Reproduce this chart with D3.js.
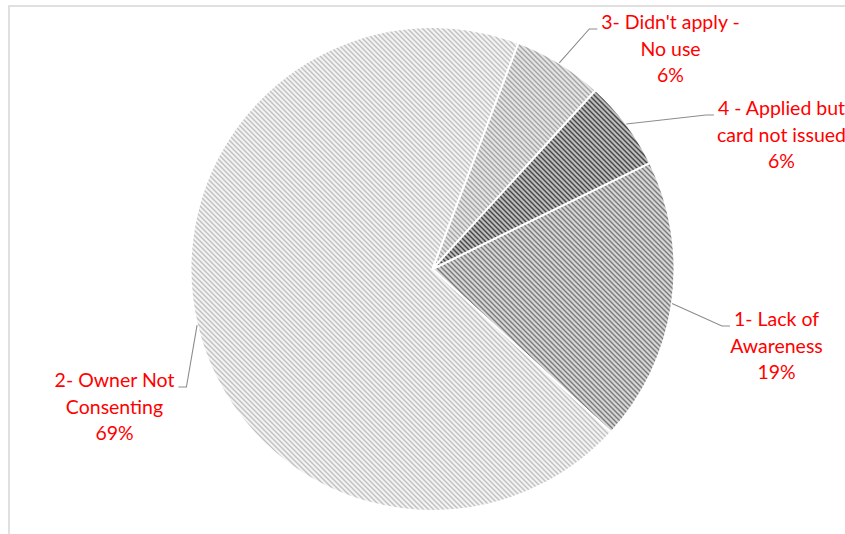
<!DOCTYPE html>
<html>
<head>
<meta charset="utf-8">
<script src="https://cdn.jsdelivr.net/npm/d3@7"></script>
<style>
  html, body { margin: 0; padding: 0; background: #fff; }
  svg { display: block; }
</style>
</head>
<body>
<svg id="chart" width="845" height="534"></svg>
<script>
// Reasons for not holding a card, share of respondents
const categories = ["1- Lack of Awareness", "2- Owner Not Consenting", "3- Didn't apply - No use", "4 - Applied but card not issued"];
const labelLines = [["1- Lack of", "Awareness"], ["2- Owner Not", "Consenting"], ["3- Didn't apply -", "No use"], ["4 - Applied but", "card not issued"]];
const values = [19, 69, 6, 6];
const percentLabels = ["19%", "69%", "6%", "6%"];

// Hatch styling per slice: [background, stripe]
const hatch = [
  ["#d6d6d6", "#7a7a7a"],
  ["#f3f3f3", "#c0c0c0"],
  ["#e4e4e4", "#a4a4a4"],
  ["#bdbdbd", "#454545"]
];

// Label block placement relative to pie centre: [centre x offset, first baseline y offset]
const labelPlacement = [
  [344, 57],
  [-318, 118],
  [238, -240],
  [349, -154]
];

const W = 845, H = 534;
const cx = 432.5, cy = 269, R = 242;
const startDeg = 64;
const lineStep = 26.5;
const tile = 5;

const svg = d3.select("#chart");

// chart area frame
svg.append("rect")
  .attr("x", 9).attr("y", 6)
  .attr("width", W + 20).attr("height", H + 20)
  .attr("fill", "#fff")
  .attr("stroke", "#d9d9d9")
  .attr("stroke-width", 1.6);

// pixel-aligned downward-diagonal hatch tiles
const defs = svg.append("defs");
hatch.forEach((c, i) => {
  const p = defs.append("pattern")
    .attr("id", "hatch" + i)
    .attr("patternUnits", "userSpaceOnUse")
    .attr("x", 0).attr("y", 0)
    .attr("width", tile).attr("height", tile);
  p.append("rect").attr("width", tile).attr("height", tile).attr("fill", c[0]);
  const cells = [];
  for (let y = 0; y < tile; y++) {
    for (let x = 0; x < tile; x++) {
      const k = ((x - y) % tile + tile) % tile;
      if (k === 0 || k === 1) cells.push([x, y]);
    }
  }
  p.selectAll("rect.px").data(cells).join("rect")
    .attr("class", "px")
    .attr("x", d => d[0]).attr("y", d => d[1])
    .attr("width", 1).attr("height", 1)
    .attr("fill", c[1])
    .attr("shape-rendering", "crispEdges");
});

const pie = d3.pie()
  .sort(null)
  .value(d => d)
  .startAngle(startDeg * Math.PI / 180)
  .endAngle(startDeg * Math.PI / 180 + 2 * Math.PI);

const arcs = pie(values);
const arc = d3.arc().innerRadius(0).outerRadius(R);

const g = svg.append("g").attr("transform", `translate(${cx},${cy})`);

g.selectAll("path.slice")
  .data(arcs)
  .join("path")
  .attr("class", "slice")
  .attr("d", arc)
  .attr("fill", (d, i) => `url(#hatch${i})`)
  .attr("stroke", "#fff")
  .attr("stroke-width", 2)
  .attr("stroke-linejoin", "round");

// data labels
const labels = g.selectAll("text.lbl")
  .data(arcs)
  .join("text")
  .attr("class", "lbl")
  .attr("text-anchor", "middle")
  .attr("fill", "#ff0000")
  .style("font-family", "Lato, 'Open Sans', sans-serif")
  .style("font-size", "19.5px");

labels.each(function (d, i) {
  const t = d3.select(this);
  const [lx, ly] = labelPlacement[i];
  const lines = labelLines[i].concat([percentLabels[i]]);
  lines.forEach((s, k) => {
    t.append("tspan").attr("x", lx).attr("y", ly + k * lineStep).text(s);
  });
});

// leader lines from the slice edge to the first label line
labels.each(function (d, i) {
  const first = this.firstChild.getBBox();
  const a = (d.startAngle + d.endAngle) / 2;
  const sx = Math.sin(a) * R, sy = -Math.cos(a) * R;
  const [, ly] = labelPlacement[i];
  const right = Math.sin(a) >= 0;
  const ex = right ? first.x - 4 : first.x + first.width + 4;
  const ey = ly;
  const elbowX = right ? ex - 8 : ex + 8;
  g.append("path")
    .attr("d", d3.line()([[sx, sy], [elbowX, ey], [ex, ey]]))
    .attr("fill", "none")
    .attr("stroke", "#8c8c8c")
    .attr("stroke-width", 1.1);
});
</script>
</body>
</html>
